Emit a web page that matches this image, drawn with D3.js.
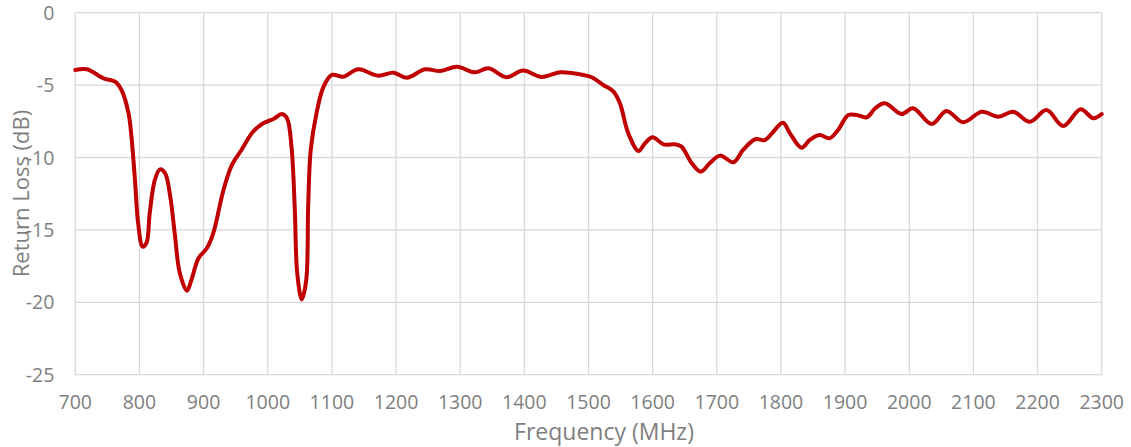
<!DOCTYPE html>
<html><head><meta charset="utf-8">
<script src="https://cdn.jsdelivr.net/npm/d3@7"></script>
<style>body{margin:0;background:#fff;}svg{display:block;}</style>
</head><body><svg id="c" width="1131" height="447"></svg>
<script>
const freq = [700,718,744,762,772,783,788,793,798,805,811,816,824,832,840,848,855,863,874,881,892,905,915,931,944,959,977,993,1009,1022,1030,1037,1042,1046,1053,1060,1063,1067,1076,1087,1100,1118,1141,1172,1196,1217,1245,1269,1295,1323,1344,1372,1398,1427,1456,1492,1505,1523,1539,1549,1562,1578,1588,1600,1617,1635,1645,1661,1675,1689,1705,1726,1741,1760,1775,1786,1803,1814,1832,1845,1860,1876,1889,1905,1918,1934,1947,1962,1988,2006,2035,2058,2084,2113,2139,2162,2188,2214,2240,2267,2287,2300];
const returnLoss = [-3.96,-3.91,-4.53,-4.76,-5.34,-6.95,-8.79,-11.55,-14.55,-16.16,-15.9,-13.85,-11.55,-10.82,-11.09,-12.7,-15.24,-18.0,-19.2,-18.46,-16.96,-16.27,-15.24,-12.24,-10.52,-9.48,-8.22,-7.64,-7.34,-7.0,-7.29,-9.25,-13.4,-18.0,-19.8,-18.46,-13.4,-9.48,-6.95,-5.11,-4.3,-4.42,-3.91,-4.35,-4.14,-4.49,-3.91,-4.03,-3.73,-4.12,-3.84,-4.46,-4.0,-4.44,-4.12,-4.3,-4.46,-4.99,-5.45,-6.26,-8.33,-9.55,-9.02,-8.6,-9.09,-9.09,-9.25,-10.4,-10.98,-10.4,-9.87,-10.33,-9.48,-8.74,-8.8,-8.33,-7.6,-8.33,-9.32,-8.79,-8.45,-8.67,-8.1,-7.07,-7.07,-7.22,-6.6,-6.26,-7.0,-6.6,-7.69,-6.79,-7.57,-6.84,-7.18,-6.84,-7.53,-6.72,-7.82,-6.67,-7.29,-7.0];
const xTicks = [700,800,900,1000,1100,1200,1300,1400,1500,1600,1700,1800,1900,2000,2100,2200,2300];
const yTicks = [0,-5,-10,-15,-20,-25];
const xTitle = "Frequency (MHz)";
const yTitle = "Return Loss (dB)";

const svg = d3.select("#c");
const L = 75.3, R = 1101.7, T = 12.7, B = 374.7;
const x = d3.scaleLinear().domain([700,2300]).range([L,R]);
const y = d3.scaleLinear().domain([0,-25]).range([T,B]);
const font = "'Open Sans', sans-serif";
const grid = "#d9d9d9", txt = "#7f7f7f";

const g = svg.append("g");
g.selectAll(".vx").data(xTicks).join("line")
  .attr("x1",d=>x(d)).attr("x2",d=>x(d)).attr("y1",T).attr("y2",B)
  .attr("stroke",grid).attr("stroke-width",1.3);
g.selectAll(".hy").data(yTicks).join("line")
  .attr("x1",L).attr("x2",R).attr("y1",d=>y(d)).attr("y2",d=>y(d))
  .attr("stroke",grid).attr("stroke-width",1.3);

g.selectAll(".xl").data(xTicks).join("text")
  .attr("x",d=>x(d)).attr("y",B+34.5).attr("text-anchor","middle")
  .attr("font-family",font).attr("font-size",19.5).attr("fill",txt).text(d=>d);
g.selectAll(".yl").data(yTicks).join("text")
  .attr("x",L-21).attr("y",d=>y(d)+7).attr("text-anchor","end")
  .attr("font-family",font).attr("font-size",19.5).attr("fill",txt).text(d=>d);

svg.append("text").attr("x",604).attr("y",440).attr("text-anchor","middle")
  .attr("font-family",font).attr("font-size",23).attr("fill",txt).text(xTitle);
svg.append("text").attr("transform",`translate(29,193.5) rotate(-90)`).attr("text-anchor","middle")
  .attr("font-family",font).attr("font-size",22).attr("fill",txt).text(yTitle);

const pts = freq.map((f,i)=>[f,returnLoss[i]]);
svg.append("path").datum(pts)
  .attr("d", d3.line().x(d=>x(d[0])).y(d=>y(d[1])).curve(d3.curveCatmullRom.alpha(0.5)))
  .attr("fill","none").attr("stroke","#c00000").attr("stroke-width",4)
  .attr("stroke-linejoin","round").attr("stroke-linecap","round");
</script></body></html>
